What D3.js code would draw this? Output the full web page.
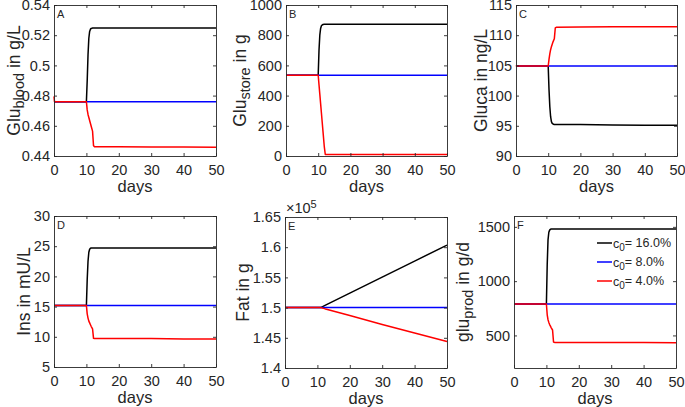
<!DOCTYPE html>
<html>
<head>
<meta charset="utf-8">
<script src="https://cdn.jsdelivr.net/npm/d3@7"></script>
<style>
  html, body { margin: 0; padding: 0; background: #fff; }
  svg { display: block; }
  text { font-family: "Liberation Sans", Arial, Helvetica, sans-serif; fill: #262626; }
</style>
</head>
<body>
<svg id="chart" width="685" height="407"></svg>
<script>
// ---------------- data ----------------
const days = [0, 0.15, 10, 10.25, 10.5, 10.75, 11, 11.25, 11.5, 11.9, 12.2, 12.5, 20, 30, 40, 50];
const xTicks = [0, 10, 20, 30, 40, 50];
const legendLabels = [["c", "0", "= 16.0%"], ["c", "0", "= 8.0%"], ["c", "0", "= 4.0%"]];

// A: Glu_blood (g/L)
const gluBloodHigh = [0.476, 0.476, 0.476, 0.490, 0.507, 0.518, 0.5225, 0.524, 0.5245, 0.5247, 0.5248, 0.5248, 0.5248, 0.5248, 0.5248, 0.5247];
const gluBloodMid  = [0.476, 0.476, 0.476, 0.476, 0.476, 0.476, 0.476, 0.476, 0.476, 0.476, 0.476, 0.476, 0.476, 0.476, 0.476, 0.476];
const gluBloodLow  = [0.4795, 0.476, 0.476, 0.4705, 0.4675, 0.4655, 0.4635, 0.4615, 0.4595, 0.4565, 0.4468, 0.4462, 0.4461, 0.446, 0.4459, 0.4458];
const gluBloodTicks = [0.44, 0.46, 0.48, 0.5, 0.52, 0.54];

// B: Glu_store (g)
const gluStoreHigh = [535, 535, 535, 700, 800, 845, 862, 868, 871, 873, 873, 873, 873, 873, 873, 873];
const gluStoreMid  = [535, 535, 535, 535, 535, 535, 535, 535, 535, 535, 535, 535, 535, 535, 535, 535];
const gluStoreLow  = [535, 535, 535, 472, 410, 347, 285, 222, 160, 60, 10, 10, 10, 10, 10, 10];
const gluStoreTicks = [0, 200, 400, 600, 800, 1000];

// C: Gluca (ng/L)
const glucaHigh = [104.9, 104.9, 104.9, 101, 98.2, 96.5, 95.7, 95.4, 95.3, 95.2, 95.2, 95.2, 95.2, 95.15, 95.1, 95.1];
const glucaMid  = [104.9, 104.9, 104.9, 104.9, 104.9, 104.9, 104.9, 104.9, 104.9, 104.9, 104.9, 104.9, 104.9, 104.9, 104.9, 104.9];
const glucaLow  = [105.0, 104.9, 104.9, 106, 106.9, 107.6, 108.1, 108.5, 108.9, 109.4, 111.2, 111.3, 111.35, 111.4, 111.4, 111.4];
const glucaTicks = [90, 95, 100, 105, 110, 115];

// D: Ins (mU/L)
const insHigh = [15.2, 15.2, 15.2, 19.5, 22.5, 24, 24.5, 24.65, 24.7, 24.7, 24.7, 24.7, 24.7, 24.7, 24.7, 24.7];
const insMid  = [15.2, 15.2, 15.2, 15.2, 15.2, 15.2, 15.2, 15.2, 15.2, 15.2, 15.2, 15.2, 15.2, 15.2, 15.2, 15.2];
const insLow  = [15.2, 15.2, 15.2, 13.8, 13.1, 12.6, 12.3, 12.0, 11.7, 11.3, 9.75, 9.7, 9.7, 9.7, 9.65, 9.62];
const insTicks = [5, 10, 15, 20, 25, 30];

// E: Fat (g)
const fatHigh = [150000, 150000, 150000, 150000, 150000, 150000, 150000, 150066, 150133, 150239, 150318, 150398, 152390, 155040, 157700, 160350];
const fatMid  = [150000, 150000, 150000, 150000, 150000, 150000, 150000, 150000, 150000, 150000, 150000, 150000, 150000, 150000, 150000, 150000];
const fatLow  = [150000, 150000, 150000, 150000, 150000, 150000, 150000, 149960, 149930, 149870, 149830, 149780, 148700, 147200, 145800, 144400];
const fatTicks = [140000, 145000, 150000, 155000, 160000, 165000];

// F: glu_prod (g/d)
const gluProdHigh = [790, 790, 790, 1150, 1380, 1450, 1470, 1478, 1480, 1480, 1480, 1480, 1480, 1480, 1480, 1480];
const gluProdMid  = [790, 790, 790, 790, 790, 790, 790, 790, 790, 790, 790, 790, 790, 790, 790, 790];
const gluProdLow  = [790, 790, 790, 690, 645, 620, 600, 585, 570, 550, 440, 436, 435, 434, 434, 433];
const gluProdTicks = [500, 1000, 1500];

// ---------------- drawing ----------------
const colors = ["#000000", "#0000ff", "#ff0000"];
const svg = d3.select("#chart");
const fmt = d => String(+d.toFixed(4));

const panels = [
  { letter: "A", box: [54, 216, 5, 156], ydom: [0.44, 0.54], yt: gluBloodTicks, series: [gluBloodHigh, gluBloodMid, gluBloodLow],
    label: [["Glu", 0], ["blood", 1], [" in g/L", 0]], lx: 20 },
  { letter: "B", box: [286, 447, 5, 156], ydom: [0, 1000], yt: gluStoreTicks, series: [gluStoreHigh, gluStoreMid, gluStoreLow],
    label: [["Glu", 0], ["store", 1], [" in g", 0]], lx: 246 },
  { letter: "C", box: [516, 677, 5, 156], ydom: [90, 115], yt: glucaTicks, series: [glucaHigh, glucaMid, glucaLow],
    label: [["Gluca in ng/L", 0]], lx: 487 },
  { letter: "D", box: [54, 216, 216, 367], ydom: [5, 30], yt: insTicks, series: [insHigh, insMid, insLow],
    label: [["Ins in mU/L", 0]], lx: 30 },
  { letter: "E", box: [285, 447, 217, 368], ydom: [140000, 165000], yt: fatTicks, series: [fatHigh, fatMid, fatLow],
    label: [["Fat in g", 0]], lx: 249, tickFmt: d => String(+(d / 1e5).toFixed(3)), exp: true },
  { letter: "F", box: [514, 676, 216, 368], ydom: [200, 1600], yt: gluProdTicks, series: [gluProdHigh, gluProdMid, gluProdLow],
    label: [["glu", 0], ["prod", 1], [" in g/d", 0]], lx: 469, legend: true }
];

panels.forEach(p => {
  const [x0, x1, y0, y1] = p.box;
  const x = d3.scaleLinear().domain([0, 50]).range([x0, x1]);
  const y = d3.scaleLinear().domain(p.ydom).range([y1, y0]);
  const g = svg.append("g");
  const tf = p.tickFmt || fmt;

  // curves
  const line = d3.line().x((d, i) => x(days[i])).y(d => y(d));
  p.series.forEach((s, k) => {
    g.append("path").datum(s).attr("d", line)
      .attr("fill", "none").attr("stroke", colors[k]).attr("stroke-width", 1.5)
      .attr("stroke-linejoin", "round");
  });

  // axes
  const styleAxis = sel => {
    sel.selectAll("path").attr("stroke", "#262626").attr("stroke-width", 0.9);
    sel.selectAll("line").attr("stroke", "#262626").attr("stroke-width", 0.9);
    sel.selectAll("text").attr("fill", "#262626").style("font-size", "14.5px")
      .style("font-family", '"Liberation Sans", Arial, Helvetica, sans-serif');
  };
  g.append("g").attr("transform", `translate(0,${y1})`)
    .call(d3.axisBottom(x).tickValues(xTicks).tickSizeInner(-3).tickSizeOuter(0).tickPadding(9).tickFormat(d3.format("d")))
    .call(styleAxis);
  g.append("g").attr("transform", `translate(0,${y0})`)
    .call(d3.axisTop(x).tickValues(xTicks).tickSizeInner(-3).tickSizeOuter(0).tickFormat(""))
    .call(styleAxis);
  g.append("g").attr("transform", `translate(${x0},0)`)
    .call(d3.axisLeft(y).tickValues(p.yt).tickSizeInner(-3).tickSizeOuter(0).tickPadding(4).tickFormat(tf))
    .call(styleAxis);
  g.append("g").attr("transform", `translate(${x1},0)`)
    .call(d3.axisRight(y).tickValues(p.yt).tickSizeInner(-3).tickSizeOuter(0).tickFormat(""))
    .call(styleAxis);

  // panel letter
  g.append("text").attr("x", x0 + 3).attr("y", y0 + 12.5).style("font-size", "11px").text(p.letter);

  // x label
  g.append("text").attr("x", (x0 + x1) / 2).attr("y", y1 + 36).attr("text-anchor", "middle")
    .style("font-size", "16.5px").text("days");

  // y label
  const yl = g.append("text").attr("text-anchor", "middle")
    .attr("transform", `translate(${p.lx},${(y0 + y1) / 2}) rotate(-90)`).style("font-size", "17.5px");
  p.label.forEach(([t, sub], i) => {
    const ts = yl.append("tspan").text(t);
    if (sub) ts.style("font-size", "14.5px").attr("dy", "0.28em");
    else if (i > 0 && p.label[i - 1][1]) ts.attr("dy", "-0.23em");
  });

  // exponent
  if (p.exp) {
    const ex = g.append("text").attr("x", x0 + 1).attr("y", y0 - 4).style("font-size", "14.5px");
    ex.append("tspan").text("×10");
    ex.append("tspan").text("5").style("font-size", "11px").attr("dy", "-0.5em");
  }

  // legend
  if (p.legend) {
    legendLabels.forEach((lab, k) => {
      const ly = 243 + k * 19;
      g.append("line").attr("x1", 597).attr("x2", 612).attr("y1", ly).attr("y2", ly)
        .attr("stroke", colors[k]).attr("stroke-width", 1.5);
      const t = g.append("text").attr("x", 613).attr("y", ly + 4.5).style("font-size", "12.5px");
      t.append("tspan").text(lab[0]);
      t.append("tspan").text(lab[1]).style("font-size", "10px").attr("dy", "0.35em");
      t.append("tspan").text(lab[2]).attr("dy", "-0.35em");
    });
  }
});
</script>
</body>
</html>
